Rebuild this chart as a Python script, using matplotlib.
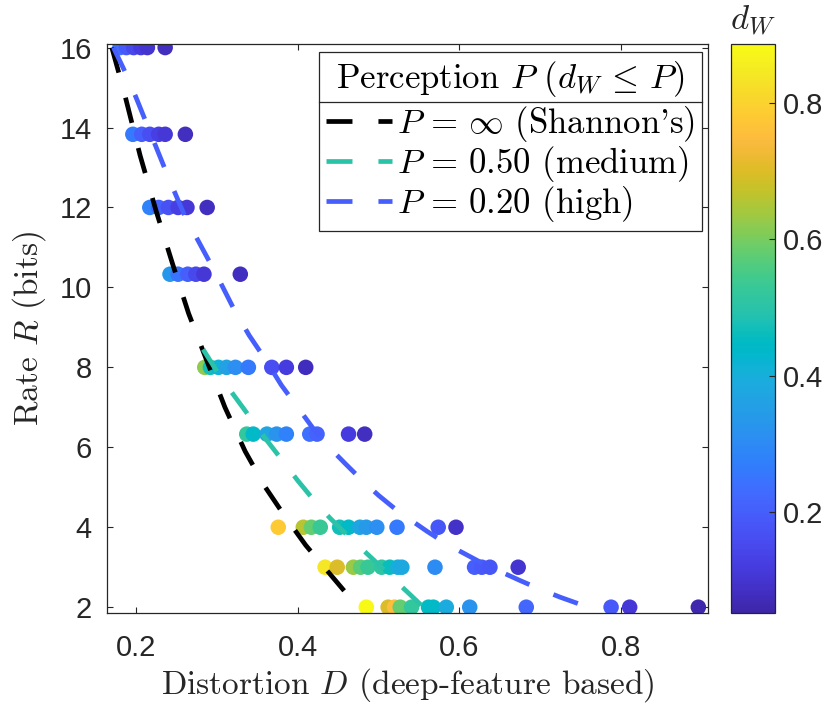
import numpy as np
import matplotlib
matplotlib.use("Agg")
import matplotlib.pyplot as plt
from matplotlib.colors import LinearSegmentedColormap, Normalize
from matplotlib.lines import Line2D

plt.rcParams['mathtext.fontset'] = 'cm'
plt.rcParams['axes.unicode_minus'] = False

# ---------------- data ----------------
rates = [16.0, 13.83, 12.0, 10.33, 8.0, 6.33, 4.0, 3.0, 2.0]

d_r16 = [0.180, 0.188, 0.197, 0.206, 0.214, 0.236]
w_r16 = [0.24, 0.19, 0.15, 0.12, 0.10, 0.08]
d_r14 = [0.196, 0.207, 0.217, 0.228, 0.236, 0.261]
w_r14 = [0.26, 0.20, 0.16, 0.13, 0.11, 0.08]
d_r12 = [0.217, 0.228, 0.240, 0.252, 0.263, 0.288]
w_r12 = [0.28, 0.21, 0.17, 0.13, 0.11, 0.08]
d_r10 = [0.242, 0.252, 0.264, 0.274, 0.284, 0.329]
w_r10 = [0.33, 0.25, 0.20, 0.15, 0.11, 0.08]
d_r8 = [0.285, 0.292, 0.302, 0.312, 0.323, 0.339, 0.368, 0.386, 0.410]
w_r8 = [0.62, 0.47, 0.41, 0.36, 0.31, 0.26, 0.16, 0.12, 0.075]
d_r6 = [0.337, 0.345, 0.362, 0.374, 0.386, 0.415, 0.424, 0.463, 0.483]
w_r6 = [0.52, 0.44, 0.37, 0.32, 0.28, 0.24, 0.21, 0.12, 0.08]
d_r4 = [0.376, 0.407, 0.417, 0.428, 0.452, 0.463, 0.477, 0.485, 0.498, 0.523, 0.574, 0.596]
w_r4 = [0.78, 0.66, 0.58, 0.53, 0.47, 0.44, 0.37, 0.34, 0.31, 0.26, 0.18, 0.09]
d_r3 = [0.434, 0.449, 0.469, 0.478, 0.487, 0.504, 0.514, 0.524, 0.529, 0.570, 0.619, 0.628, 0.638, 0.673]
w_r3 = [0.84, 0.70, 0.63, 0.57, 0.53, 0.51, 0.46, 0.40, 0.38, 0.30, 0.20, 0.19, 0.18, 0.10]
d_r2 = [0.485, 0.512, 0.520, 0.527, 0.541, 0.562, 0.568, 0.584, 0.613, 0.683, 0.788, 0.811, 0.896]
w_r2 = [0.88, 0.70, 0.75, 0.58, 0.52, 0.45, 0.44, 0.39, 0.32, 0.22, 0.19, 0.11, 0.06]

row_d = [d_r16, d_r14, d_r12, d_r10, d_r8, d_r6, d_r4, d_r3, d_r2]
row_w = [w_r16, w_r14, w_r12, w_r10, w_r8, w_r6, w_r4, w_r3, w_r2]

shannon_D = [0.170, 0.185, 0.205, 0.225, 0.245, 0.265, 0.285, 0.310, 0.335, 0.360, 0.385, 0.410, 0.435, 0.458]
shannon_R = [16.0, 14.9, 13.3, 11.9, 10.6, 9.35, 8.3, 7.0, 5.9, 5.0, 4.25, 3.55, 2.95, 2.4]

medium_D = [0.283, 0.300, 0.320, 0.340, 0.360, 0.380, 0.400, 0.420, 0.440, 0.460, 0.480, 0.500, 0.520, 0.540, 0.553]
medium_R = [8.45, 7.9, 7.33, 6.78, 6.22, 5.7, 5.17, 4.68, 4.23, 3.83, 3.45, 3.07, 2.68, 2.3, 2.05]

high_D = [0.172, 0.185, 0.200, 0.220, 0.240, 0.260, 0.280, 0.300, 0.320, 0.340, 0.360, 0.380, 0.400,
          0.420, 0.440, 0.460, 0.480, 0.500, 0.520, 0.540, 0.560, 0.580, 0.600, 0.625, 0.650, 0.675,
          0.700, 0.725, 0.750, 0.775]
high_R = [16.0, 15.45, 14.75, 13.75, 12.75, 11.8, 11.05, 10.3, 9.5, 8.8, 8.2, 7.55, 7.0,
          6.45, 5.98, 5.57, 5.17, 4.8, 4.47, 4.18, 3.9, 3.64, 3.41, 3.14, 2.9, 2.67,
          2.45, 2.25, 2.07, 1.9]

P_medium = 0.50
P_high = 0.20
labels = [r"$P\,=\,\infty$ (Shannon's)", r"$P\,=\,0.50$ (medium)", r"$P\,=\,0.20$ (high)"]
legend_title = r"Perception $P$ ($d_W\,\leq\,P$)"

x_ticks = [0.2, 0.4, 0.6, 0.8]
y_ticks = [2, 4, 6, 8, 10, 12, 14, 16]
cbar_ticks = [0.2, 0.4, 0.6, 0.8]
w_min, w_max = 0.052, 0.886

# MATLAB parula colormap (64 entries)
parula_data = [
    [0.2422, 0.1504, 0.6603], [0.2504, 0.1650, 0.7076], [0.2578, 0.1818, 0.7511], [0.2647, 0.1978, 0.7952],
    [0.2706, 0.2147, 0.8364], [0.2751, 0.2342, 0.8710], [0.2783, 0.2559, 0.8991], [0.2803, 0.2782, 0.9221],
    [0.2813, 0.3006, 0.9414], [0.2810, 0.3228, 0.9579], [0.2795, 0.3447, 0.9717], [0.2760, 0.3667, 0.9829],
    [0.2699, 0.3892, 0.9906], [0.2602, 0.4123, 0.9952], [0.2440, 0.4358, 0.9988], [0.2206, 0.4603, 0.9973],
    [0.1963, 0.4847, 0.9892], [0.1834, 0.5074, 0.9798], [0.1786, 0.5289, 0.9682], [0.1764, 0.5499, 0.9520],
    [0.1687, 0.5703, 0.9359], [0.1540, 0.5902, 0.9218], [0.1460, 0.6091, 0.9079], [0.1380, 0.6276, 0.8973],
    [0.1248, 0.6459, 0.8883], [0.1113, 0.6635, 0.8763], [0.0952, 0.6798, 0.8598], [0.0689, 0.6948, 0.8394],
    [0.0297, 0.7082, 0.8163], [0.0036, 0.7203, 0.7917], [0.0067, 0.7312, 0.7660], [0.0433, 0.7411, 0.7394],
    [0.0964, 0.7500, 0.7120], [0.1408, 0.7584, 0.6842], [0.1717, 0.7670, 0.6554], [0.1938, 0.7758, 0.6251],
    [0.2161, 0.7843, 0.5923], [0.2470, 0.7918, 0.5567], [0.2906, 0.7973, 0.5188], [0.3406, 0.8008, 0.4789],
    [0.3909, 0.8029, 0.4354], [0.4456, 0.8024, 0.3909], [0.5044, 0.7993, 0.3480], [0.5616, 0.7942, 0.3045],
    [0.6174, 0.7876, 0.2612], [0.6720, 0.7793, 0.2227], [0.7242, 0.7698, 0.1910], [0.7738, 0.7598, 0.1646],
    [0.8203, 0.7498, 0.1535], [0.8634, 0.7406, 0.1596], [0.9035, 0.7330, 0.1774], [0.9393, 0.7288, 0.2100],
    [0.9728, 0.7298, 0.2394], [0.9956, 0.7434, 0.2371], [0.9970, 0.7659, 0.2199], [0.9952, 0.7893, 0.2028],
    [0.9892, 0.8136, 0.1885], [0.9786, 0.8386, 0.1766], [0.9676, 0.8639, 0.1643], [0.9610, 0.8890, 0.1537],
    [0.9597, 0.9135, 0.1423], [0.9628, 0.9373, 0.1265], [0.9691, 0.9606, 0.1064], [0.9769, 0.9839, 0.0805]]
parula = LinearSegmentedColormap.from_list('parula', parula_data, N=256)
norm = Normalize(vmin=w_min, vmax=w_max)

# ---------------- figure ----------------
ax_col = (0.15, 0.15, 0.15)
fig = plt.figure(figsize=(8.32, 7.08), dpi=100)
ax = fig.add_axes([0.1286, 0.1342, 0.7224, 0.8037])
cax = fig.add_axes([0.8786, 0.1342, 0.0529, 0.8037])

sc = None
for r, ds, ws in zip(rates, row_d, row_w):
    sc = ax.scatter(ds, [r] * len(ds), c=ws, cmap=parula, norm=norm, s=125,
                    edgecolors='none', zorder=2)

lw = 3.4
dash = (5.5, 5.5)
l1, = ax.plot(shannon_D, shannon_R, color='black', lw=lw, linestyle=(0, dash), zorder=3)
l2, = ax.plot(medium_D, medium_R, color=parula(norm(P_medium)), lw=lw, linestyle=(0, dash), zorder=3)
l3, = ax.plot(high_D, high_R, color=parula(norm(P_high)), lw=lw, linestyle=(0, dash), zorder=3)

ax.set_xlim(0.164, 0.908)
ax.set_ylim(1.855, 16.09)
ax.set_xticks(x_ticks)
ax.set_xticklabels([f"{t:.1f}" for t in x_ticks])
ax.set_yticks(y_ticks)
ax.set_yticklabels([str(t) for t in y_ticks])

tick_font = 'Liberation Sans'
ax.tick_params(axis='both', direction='in', length=4.5, width=0.8, colors=ax_col,
               top=True, right=True, labelsize=21)
ax.tick_params(axis='x', pad=15)
ax.tick_params(axis='y', pad=11)
for lab in ax.get_xticklabels() + ax.get_yticklabels():
    lab.set_fontfamily(tick_font)
for sp in ax.spines.values():
    sp.set_color(ax_col)
    sp.set_linewidth(0.9)

ax.set_xlabel("Distortion $D$ (deep-feature based)", fontfamily='cmr10', fontsize=24,
              color=ax_col, labelpad=3)
ax.set_ylabel("Rate $R$ (bits)", fontfamily='cmr10', fontsize=24, color=ax_col, labelpad=8)

leg_fs = 25
leg = ax.legend([l1, l2, l3], labels, title=legend_title,
                loc='upper right', bbox_to_anchor=(0.990, 0.986), borderaxespad=0,
                prop={'family': 'cmr10', 'size': leg_fs},
                title_fontproperties={'family': 'cmr10', 'size': leg_fs},
                fancybox=False, framealpha=1, edgecolor=ax_col, handlelength=1.9,
                handletextpad=0.15, borderpad=0.2, labelspacing=0.0)
leg.get_frame().set_linewidth(0.9)
# gap between the title and the entries (room for the separator line)
leg._legend_box.sep = 4

cb = fig.colorbar(sc, cax=cax, ticks=cbar_ticks)
cb.ax.tick_params(direction='in', length=4.5, width=0.8, colors=ax_col, labelsize=21, pad=6)
cb.ax.set_yticklabels([f"{t:.1f}" for t in cbar_ticks])
for lab in cb.ax.get_yticklabels():
    lab.set_fontfamily(tick_font)
cb.outline.set_edgecolor(ax_col)
cb.outline.set_linewidth(0.9)
cb.ax.set_title("$d_W$", fontsize=25, color=ax_col, pad=10)

# separator line under legend title
fig.canvas.draw()
renderer = fig.canvas.get_renderer()
lb = leg.get_window_extent(renderer)
tb = leg.get_title().get_window_extent(renderer)
eb = leg.get_texts()[0].get_window_extent(renderer)
ysep = 0.5 * (tb.y0 + eb.y1)
sep = Line2D([lb.x0, lb.x1], [ysep, ysep], transform=None, color=ax_col, lw=0.9, zorder=10)
fig.add_artist(sep)

fig.savefig("out.png", dpi=100)
